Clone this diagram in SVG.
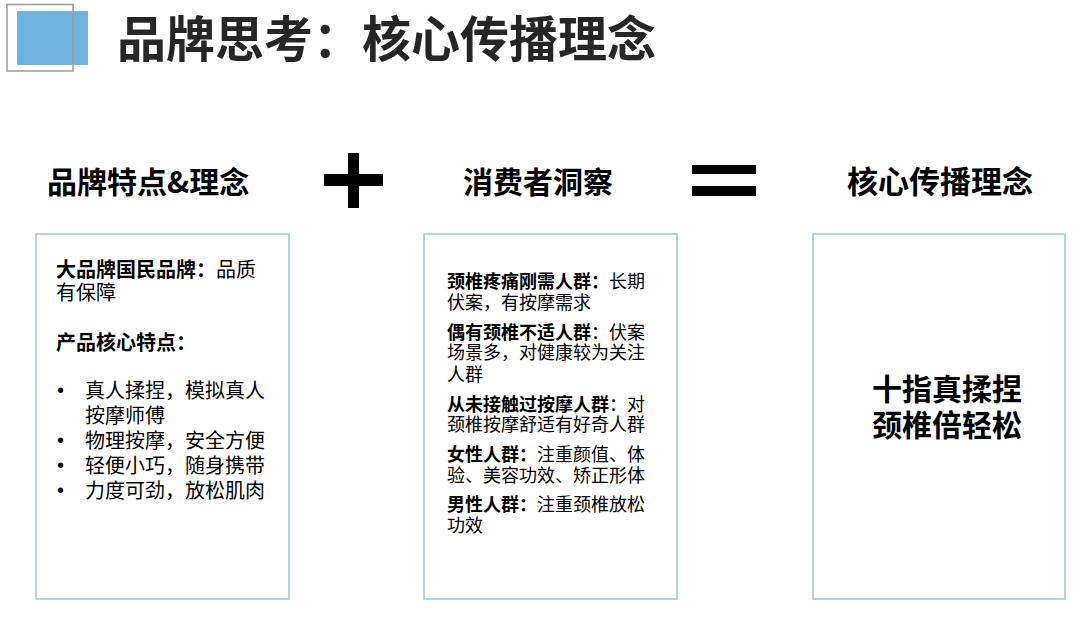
<svg xmlns="http://www.w3.org/2000/svg" width="1080" height="617" viewBox="0 0 1080 617">
<style>
text{font-family:"Noto Sans CJK SC","Microsoft YaHei",sans-serif;fill:#000}
.t{font-size:49px;font-weight:700;fill:#262626}
.h{font-size:31px;font-weight:700}
.b1{font-size:20px}
.b2{font-size:18px}
.big{font-size:30px;font-weight:700}
.bd{font-weight:700}
.bul{font-family:"Liberation Sans",Arial,sans-serif;font-size:20px}
.box{fill:#fff;stroke:#9dc3e6;stroke-width:1.5}
</style>
<rect width="1080" height="617" fill="#fff"/>
<g id="header">
<rect x="17" y="11" width="71" height="54" fill="#6fb4e0"/>
<rect x="7" y="4.5" width="66" height="66.5" fill="none" stroke="#9a9a9a" stroke-width="1.5"/>
<text class="t" x="117" y="57">品牌思考：核心传播理念</text>
</g>
<g id="col1">
<text class="h" x="47" y="193" style="font-size:30px">品牌特点&amp;理念</text>
<rect class="box" x="36" y="234" width="253" height="365"/>
<text class="b1" x="56" y="277"><tspan class="bd">大品牌国民品牌：</tspan>品质</text>
<text class="b1" x="56" y="300">有保障</text>
<text class="b1 bd" x="56" y="350">产品核心特点：</text>
<text class="bul" x="57" y="397">•</text><text class="b1" x="85" y="398">真人揉捏，模拟真人</text>
<text class="b1" x="85" y="423">按摩师傅</text>
<text class="bul" x="57" y="447">•</text><text class="b1" x="85" y="448">物理按摩，安全方便</text>
<text class="bul" x="57" y="472">•</text><text class="b1" x="85" y="473">轻便小巧，随身携带</text>
<text class="bul" x="57" y="497">•</text><text class="b1" x="85" y="498">力度可劲，放松肌肉</text>
</g>
<g id="plus">
<rect x="324" y="174" width="59" height="12" fill="#000"/>
<rect x="348" y="153" width="11" height="55" fill="#000"/>
</g>
<g id="col2">
<text class="h" x="463" y="193" style="font-size:30px">消费者洞察</text>
<rect class="box" x="424" y="234" width="253" height="365"/>
<text class="b2" x="447" y="288"><tspan class="bd">颈椎疼痛刚需人群：</tspan>长期</text>
<text class="b2" x="447" y="309">伏案，有按摩需求</text>
<text class="b2" x="447" y="339"><tspan class="bd">偶有颈椎不适人群</tspan>：伏案</text>
<text class="b2" x="447" y="359">场景多，对健康较为关注</text>
<text class="b2" x="447" y="381">人群</text>
<text class="b2" x="447" y="411"><tspan class="bd">从未接触过按摩人群</tspan>：对</text>
<text class="b2" x="447" y="431">颈椎按摩舒适有好奇人群</text>
<text class="b2" x="447" y="461"><tspan class="bd">女性人群：</tspan>注重颜值、体</text>
<text class="b2" x="447" y="482">验、美容功效、矫正形体</text>
<text class="b2" x="447" y="511"><tspan class="bd">男性人群：</tspan>注重颈椎放松</text>
<text class="b2" x="447" y="532">功效</text>
</g>
<g id="equals">
<rect x="692" y="165" width="64" height="9" fill="#000"/>
<rect x="692" y="186" width="64" height="10" fill="#000"/>
</g>
<g id="col3">
<text class="h" x="847" y="193">核心传播理念</text>
<rect class="box" x="813" y="234" width="252" height="365"/>
<text class="big" x="872" y="400">十指真揉捏</text>
<text class="big" x="872" y="436">颈椎倍轻松</text>
</g>
<g id="connectors"></g>
</svg>
